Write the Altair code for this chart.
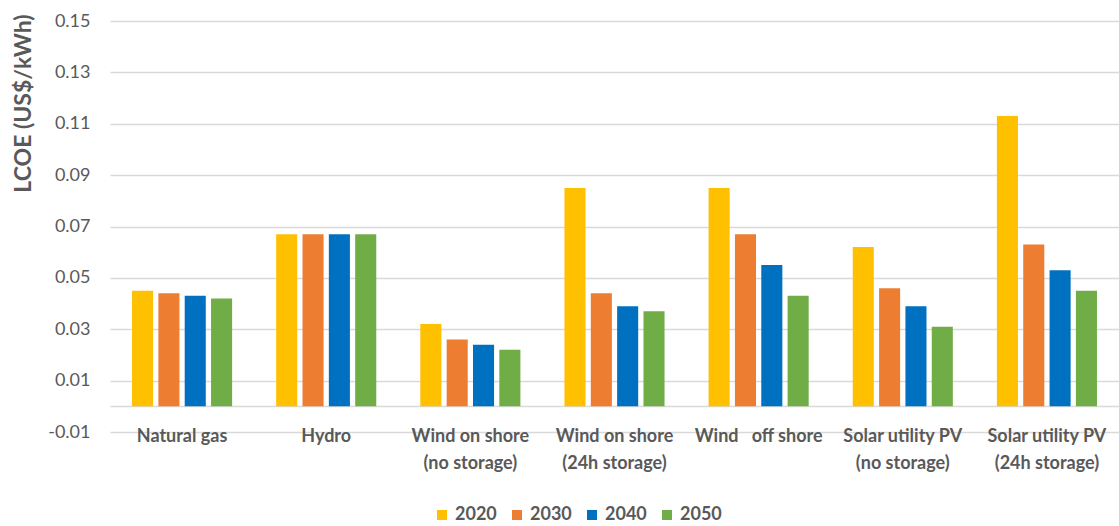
import altair as alt
import pandas as pd

# Levelised cost of electricity by technology and year
categories = [
    "Natural gas",
    "Hydro",
    "Wind on shore\n(no storage)",
    "Wind on shore\n(24h storage)",
    "Wind\u00a0\u00a0 off shore",
    "Solar utility PV\n(no storage)",
    "Solar utility PV\n(24h storage)",
]
years = ["2020", "2030", "2040", "2050"]
lcoe_2020 = [0.045, 0.067, 0.032, 0.085, 0.085, 0.062, 0.113]
lcoe_2030 = [0.044, 0.067, 0.026, 0.044, 0.067, 0.046, 0.063]
lcoe_2040 = [0.043, 0.067, 0.024, 0.039, 0.055, 0.039, 0.053]
lcoe_2050 = [0.042, 0.067, 0.022, 0.037, 0.043, 0.031, 0.045]
colors = ["#FFC000", "#ED7D31", "#0070C0", "#70AD47"]
# labelled ticks plus the unlabelled zero line where the bars stand
y_ticks = [-0.01, 0.0, 0.01, 0.03, 0.05, 0.07, 0.09, 0.11, 0.13, 0.15]

rows = []
for year, vals in zip(years, [lcoe_2020, lcoe_2030, lcoe_2040, lcoe_2050]):
    for cat, v in zip(categories, vals):
        rows.append({"tech": cat, "year": year, "lcoe": v})
df = pd.DataFrame(rows)

FONT = "Lato"
GREY = "#595959"

chart = (
    alt.Chart(df)
    .mark_bar()
    .encode(
        x=alt.X(
            "tech:N",
            sort=categories,
            scale=alt.Scale(paddingInner=0.3056, paddingOuter=0.1528),
            axis=alt.Axis(
                title=None,
                orient="bottom",
                domain=False,
                ticks=False,
                grid=False,
                labelAngle=0,
                labelFont=FONT,
                labelFontSize=18,
                labelFontWeight="bold",
                labelColor=GREY,
                labelPadding=-5,
                labelLineHeight=27,
                labelLimit=200,
                labelExpr="split(datum.label, '\\n')",
            ),
        ),
        xOffset=alt.XOffset(
            "year:N",
            sort=years,
            scale=alt.Scale(paddingInner=0.2, paddingOuter=0),
        ),
        y=alt.Y(
            "lcoe:Q",
            scale=alt.Scale(domain=[-0.01, 0.15], nice=False, zero=False),
            axis=alt.Axis(
                values=y_ticks,
                labelExpr=(
                    "datum.value == 0 ? '' : "
                    "(datum.value < 0 ? '-' : '') + format(abs(datum.value), '.2f')"
                ),
                title="LCOE (US$/kWh)",
                titleFont=FONT,
                titleFontSize=23,
                titleFontWeight="bold",
                titleColor=GREY,
                titleAngle=270,
                titleX=-87,
                titleY=82,
                titleAlign="center",
                titleBaseline="middle",
                domain=False,
                ticks=False,
                labelFont=FONT,
                labelFontSize=18,
                labelColor=GREY,
                labelPadding=20,
                gridColor="#D9D9D9",
                gridWidth=1.5,
            ),
        ),
        y2=alt.datum(0),
        color=alt.Color(
            "year:N",
            sort=years,
            scale=alt.Scale(domain=years, range=colors),
            legend=alt.Legend(
                title=None,
                orient="none",
                direction="horizontal",
                legendX=323,
                legendY=485,
                symbolType="square",
                symbolSize=100,
                symbolStrokeWidth=0,
                labelFont=FONT,
                labelFontSize=18,
                labelFontWeight="bold",
                labelColor=GREY,
                labelOffset=4,
                columnPadding=11,
            ),
        ),
    )
    .properties(
        width=1009,
        height=411,
        background="white",
        autosize=alt.AutoSizeParams(type="none"),
        padding={"left": 110, "top": 21, "right": 0, "bottom": 94},
    )
    .configure_view(strokeWidth=0)
)

chart.save("out.html", embed_options={"renderer": "svg", "actions": False})
